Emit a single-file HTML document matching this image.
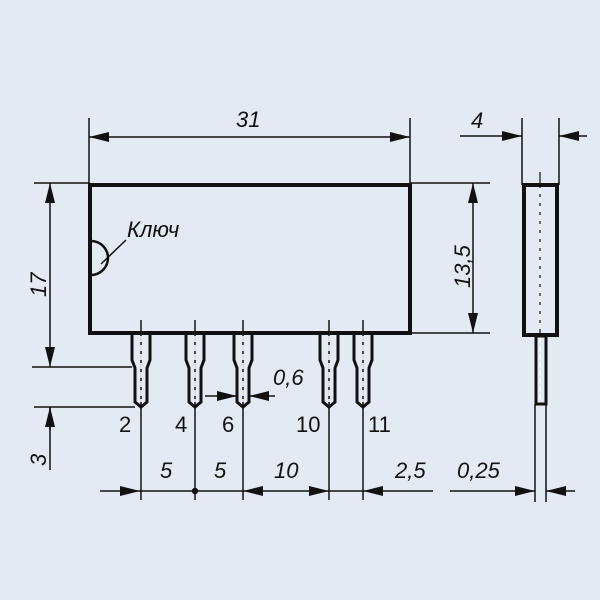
<!DOCTYPE html>
<html><head><meta charset="utf-8"><style>
html,body{margin:0;padding:0;background:#e3eaf3;}
svg{display:block}
text{font-family:"Liberation Sans",sans-serif;font-style:italic;font-size:22px;fill:#111}
.n{font-style:normal}
</style></head><body>
<svg width="600" height="600" viewBox="0 0 600 600" xmlns="http://www.w3.org/2000/svg">
<defs>
<marker id="a" viewBox="0 0 20 10" refX="20" refY="5" markerWidth="20" markerHeight="10" markerUnits="userSpaceOnUse" orient="auto-start-reverse"><path d="M0,0 L20,5 L0,10 z" fill="#111"/></marker>
<g id="pin">
<path d="M-9,333 V360 L-6,368 V402 L0,407 L6,402 V368 L9,360 V333" fill="none" stroke="#111" stroke-width="3"/>
<line x1="0" y1="320" x2="0" y2="500" stroke="#111" stroke-width="1.5"/>
<line x1="0" y1="336" x2="0" y2="402" stroke="#fff" stroke-width="1.5" stroke-dasharray="6,3"/>
</g>
</defs>
<g stroke="#111" fill="none" stroke-width="1.5">
<!-- body -->
<rect x="90" y="185" width="320" height="148" stroke-width="4"/>
<path d="M91,241 A17,17 0 0 1 91,275" stroke-width="2.5"/>
<line x1="101" y1="264" x2="126" y2="240"/>
<!-- 31 dim -->
<line x1="89" y1="118" x2="89" y2="185"/>
<line x1="410" y1="118" x2="410" y2="185"/>
<line x1="89" y1="137" x2="410" y2="137" marker-start="url(#a)" marker-end="url(#a)"/>
<!-- 17 dim -->
<line x1="34" y1="183" x2="90" y2="183"/>
<line x1="32" y1="367" x2="132" y2="367"/>
<line x1="34" y1="407" x2="135" y2="407"/>
<line x1="50" y1="183" x2="50" y2="367" marker-start="url(#a)" marker-end="url(#a)"/>
<line x1="50" y1="407" x2="50" y2="470"/>
<line x1="50" y1="430" x2="50" y2="407" marker-end="url(#a)"/>
<!-- 13,5 dim -->
<line x1="410" y1="183" x2="490" y2="183"/>
<line x1="410" y1="333" x2="490" y2="333"/>
<line x1="473" y1="183" x2="473" y2="333" marker-start="url(#a)" marker-end="url(#a)"/>
<!-- bottom dims -->
<line x1="100" y1="491" x2="140" y2="491" marker-end="url(#a)"/>
<line x1="140" y1="491" x2="243" y2="491"/>
<circle cx="195" cy="491" r="2.5" fill="#111"/>
<line x1="243" y1="491" x2="329" y2="491" marker-start="url(#a)" marker-end="url(#a)"/>
<line x1="329" y1="491" x2="363" y2="491"/>
<line x1="433" y1="491" x2="363" y2="491" marker-end="url(#a)"/>
<!-- 0,6 -->
<line x1="205" y1="396" x2="237" y2="396" marker-end="url(#a)"/>
<line x1="275" y1="396" x2="249" y2="396" marker-end="url(#a)"/>
<!-- side view -->
<rect x="524" y="185" width="33" height="150" stroke-width="4"/>
<line x1="522" y1="118" x2="522" y2="185"/>
<line x1="559" y1="118" x2="559" y2="185"/>
<line x1="460" y1="136" x2="522" y2="136" marker-end="url(#a)"/>
<line x1="587" y1="136" x2="559" y2="136" marker-end="url(#a)"/>
<line x1="540" y1="172" x2="540" y2="335" stroke-width="1.2"/>
<line x1="540" y1="188" x2="540" y2="332" stroke="#fff" stroke-dasharray="6,3"/>
<rect x="536" y="336" width="10" height="68" stroke-width="3"/>
<line x1="540" y1="338" x2="540" y2="402" stroke="#fff" stroke-dasharray="5,3"/>
<line x1="535" y1="404" x2="535" y2="502"/>
<line x1="546" y1="404" x2="546" y2="502"/>
<line x1="450" y1="491" x2="535" y2="491" marker-end="url(#a)"/>
<line x1="575" y1="491" x2="546" y2="491" marker-end="url(#a)"/>
</g>
<use href="#pin" x="141"/>
<use href="#pin" x="195"/>
<use href="#pin" x="243"/>
<use href="#pin" x="329"/>
<use href="#pin" x="363"/>
<text x="127" y="237">Ключ</text>
<text x="236" y="127">31</text>
<text x="471" y="128">4</text>
<text x="462" y="268" transform="rotate(-90 462 268) translate(-20 8)">13,5</text>
<text x="40" y="287" transform="rotate(-90 40 287) translate(-10 6)">17</text>
<text x="40" y="460" transform="rotate(-90 40 460) translate(-6 6)">3</text>
<text x="273" y="385">0,6</text>
<text class="n" x="119" y="432">2</text>
<text class="n" x="175" y="432">4</text>
<text class="n" x="222" y="432">6</text>
<text class="n" x="296" y="432">10</text>
<text class="n" x="368" y="432">11</text>
<text x="160" y="478">5</text>
<text x="214" y="478">5</text>
<text x="274" y="478">10</text>
<text x="395" y="478">2,5</text>
<text x="457" y="478">0,25</text>
</svg>
</body></html>
